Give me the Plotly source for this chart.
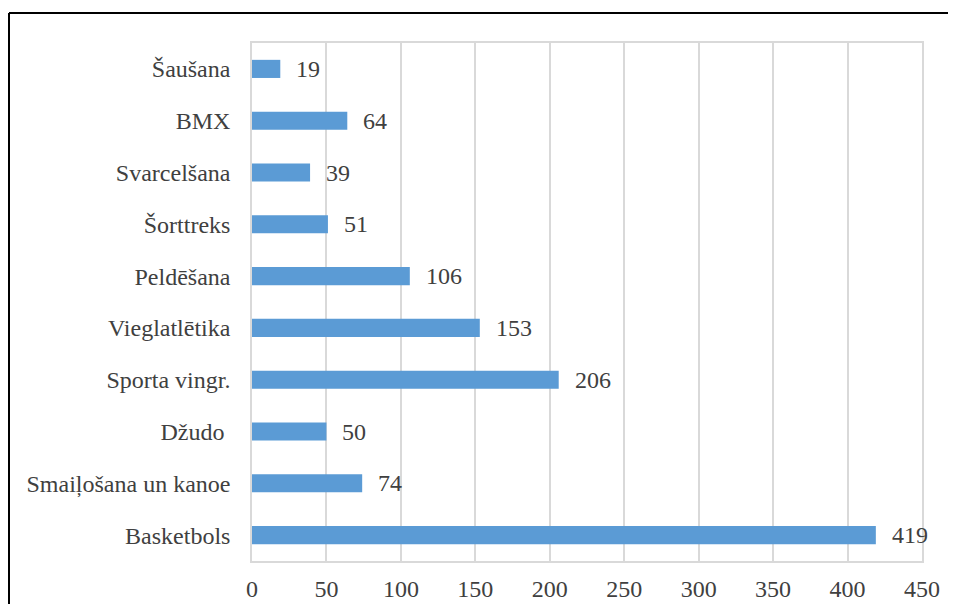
import plotly.graph_objects as go

categories = ["Basketbols", "Smaiļošana un kanoe", "Džudo\u00a0", "Sporta vingr.", "Vieglatlētika",
              "Peldēšana", "Šorttreks", "Svarcelšana", "BMX", "Šaušana"]
values = [419, 74, 50, 206, 153, 106, 51, 39, 64, 19]
x_ticks = [0, 50, 100, 150, 200, 250, 300, 350, 400, 450]

FONT = "Liberation Serif"
TXT = "#404040"
FS = 24

# page body has an 8px margin, so the figure is sized/placed to compensate (no page overflow)
W, H = 940, 596
L, R, T, B = 244, 26, 35, 43
pw, ph = W - L - R, H - T - B

fig = go.Figure(go.Bar(
    x=values, y=categories, orientation="h",
    marker=dict(color="#5B9BD5", line=dict(width=0)),
    width=0.35, hoverinfo="x+y",
))

for v, c in zip(values, categories):
    fig.add_annotation(x=v, y=c, text=str(v), showarrow=False, xanchor="left",
                       xshift=14, font=dict(family=FONT, size=FS, color=TXT))

# outer chart border (top and left edges; right/bottom lie outside the visible page)
bx0 = (1 - L) / pw
bx1 = (W - L) / pw
by0 = -(H - (T + ph)) / ph
by1 = 1 + (T - 5) / ph
fig.add_shape(type="line", xref="paper", yref="paper", x0=bx0, x1=bx1, y0=by1, y1=by1,
              line=dict(color="black", width=2), layer="above")
fig.add_shape(type="line", xref="paper", yref="paper", x0=bx0, x1=bx0, y0=by0, y1=by1,
              line=dict(color="black", width=2), layer="above")

fig.update_layout(
    width=W, height=H,
    margin=dict(l=L, r=R, t=T, b=B, autoexpand=False),
    paper_bgcolor="white", plot_bgcolor="white",
    showlegend=False,
    font=dict(family=FONT, size=FS, color=TXT),
    xaxis=dict(range=[0, 450], tickvals=x_ticks, showgrid=True, gridcolor="#D9D9D9", gridwidth=1.5,
               showline=True, linecolor="#D9D9D9", linewidth=1.5, mirror=True, zeroline=False,
               ticks="", ticklabelstandoff=5, tickfont=dict(family=FONT, size=FS, color=TXT),
               automargin=False, fixedrange=True),
    yaxis=dict(categoryorder="array", categoryarray=categories, showgrid=False,
               showline=True, linecolor="#D9D9D9", linewidth=1.5, mirror=True, zeroline=False,
               ticks="", ticklabelstandoff=15, tickfont=dict(family=FONT, size=FS, color=TXT),
               automargin=False, fixedrange=True),
)

fig.write_html("out.html")
